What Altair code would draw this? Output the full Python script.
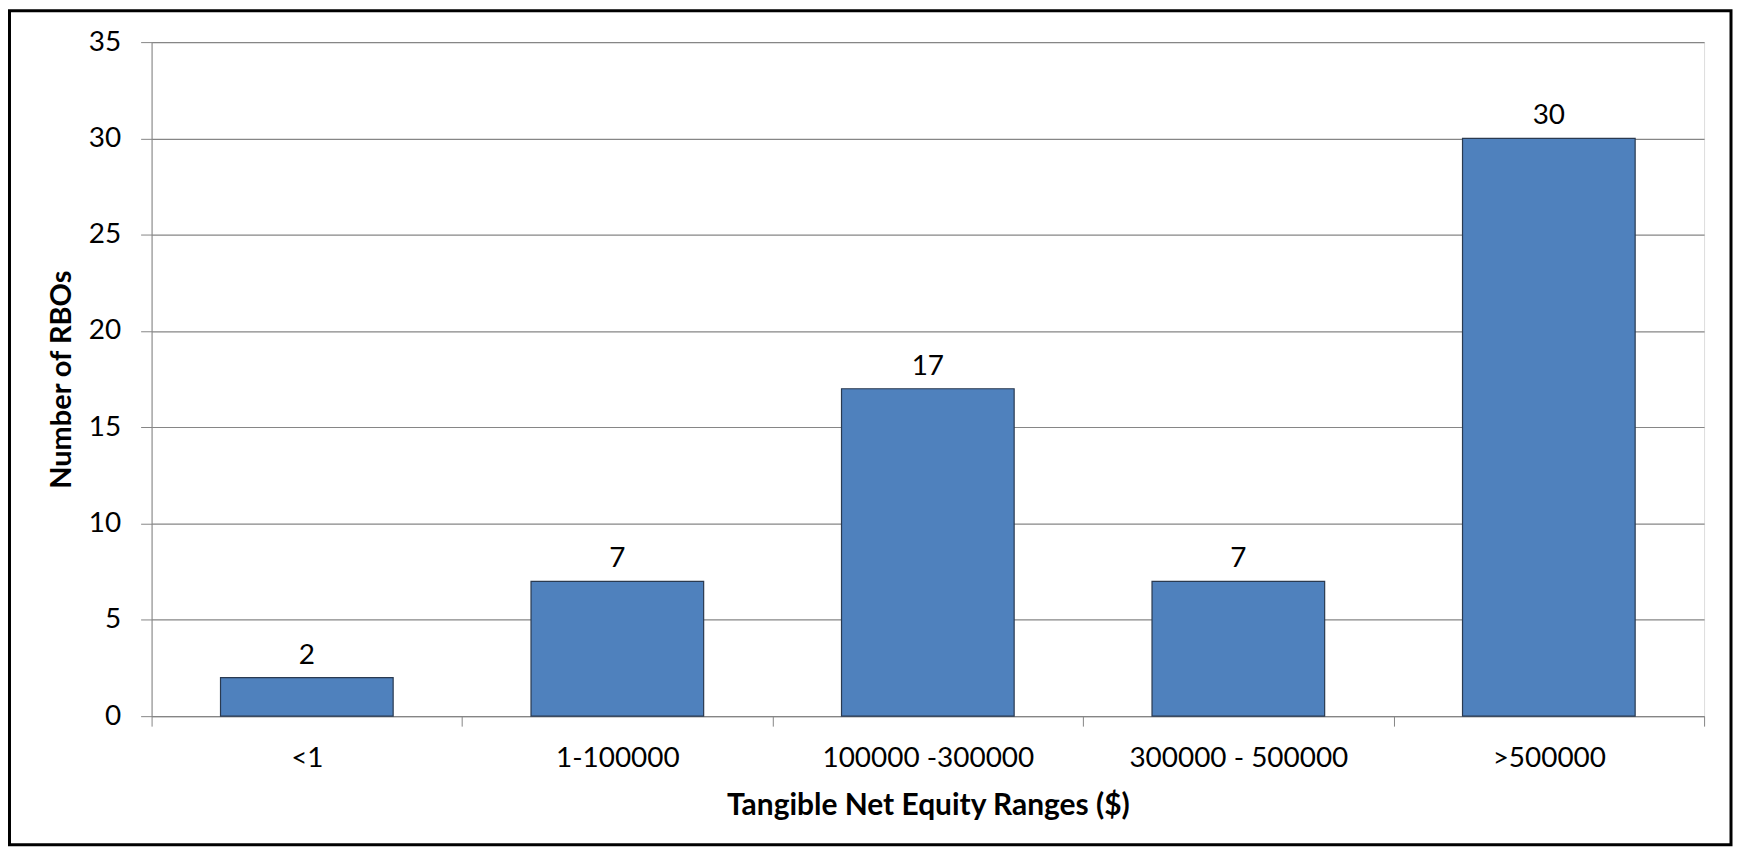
import altair as alt
import pandas as pd

categories = ["<1", "1-100000", "100000 -300000", "300000 - 500000", ">500000"]
counts = [2, 7, 17, 7, 30]

df = pd.DataFrame({"range": categories, "count": counts})

FONT = "Lato"
W, H = 1557, 676

x_enc = alt.X("range:N", sort=categories, title="Tangible Net Equity Ranges ($)",
              scale=alt.Scale(paddingInner=0, paddingOuter=0),
              axis=alt.Axis(labelAngle=0, tickBand="extent", tickSize=10, tickColor="#868686",
                            domainColor="#868686", labelFontSize=28, labelFont=FONT,
                            labelColor="#000000", labelPadding=18, labelLimit=0,
                            titleFontSize=30, titleFont=FONT, titleFontWeight="bold",
                            titleColor="#000000", titlePadding=19, grid=False))
y_enc = alt.Y("count:Q", title="Number of RBOs",
              scale=alt.Scale(domain=[0, 35], nice=False),
              axis=alt.Axis(values=[0, 5, 10, 15, 20, 25, 30, 35], tickSize=11,
                            tickColor="#868686", domainColor="#868686", gridColor="#868686",
                            gridWidth=1.2, labelFontSize=28, labelFont=FONT, labelColor="#000000",
                            labelPadding=20, titleFontSize=29, titleFont=FONT,
                            titleFontWeight="bold", titleColor="#000000", titlePadding=12))

base = alt.Chart(df)

bars = base.mark_bar(width=alt.RelativeBandSize(0.556), color="#4F81BD",
                     stroke="#2a3a50", strokeWidth=1.2).encode(x=x_enc, y=y_enc)

labels = base.mark_text(baseline="alphabetic", dy=-14, fontSize=28, font=FONT,
                        color="#000000").encode(
    x=alt.X("range:N", sort=categories), y="count:Q", text="count:Q")

border = alt.Chart(pd.DataFrame({"a": [0]})).mark_rect(
    fill=None, stroke="#000000", strokeWidth=3).encode(
    x=alt.value(-142.5), x2=alt.value(W + 27), y=alt.value(-31.5), y2=alt.value(H + 129))

chart = alt.layer(bars, labels, border).properties(
    width=W, height=H,
    autosize=alt.AutoSizeParams(type="none"),
    padding={"left": 144, "top": 33, "right": 29, "bottom": 131},
).configure_view(stroke=None).configure(background="white")

chart.save("out.html", embed_options={"renderer": "svg", "actions": False})
